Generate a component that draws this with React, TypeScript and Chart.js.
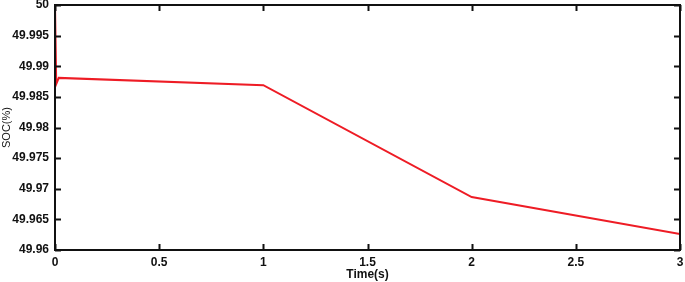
import React, { useEffect, useRef } from "react";
import { Chart, registerables } from "chart.js";

Chart.register(...registerables);

const timeValues = [0, 0.006, 0.018, 1, 2, 3];
const socValues = [50, 49.9871, 49.9881, 49.9869, 49.96865, 49.9626];
const xTicks = [0, 0.5, 1, 1.5, 2, 2.5, 3];
const yTicks = [49.96, 49.965, 49.97, 49.975, 49.98, 49.985, 49.99, 49.995, 50];

const NARROW = "'Liberation Sans Narrow', 'Arial Narrow', sans-serif";

const framePlugin = {
  id: "frame",
  afterDraw(chart: any) {
    const { ctx, chartArea: a, scales } = chart;
    const x = scales.x;
    const y = scales.y;
    ctx.save();
    ctx.strokeStyle = "#111";
    ctx.lineWidth = 2;
    ctx.strokeRect(a.left, a.top, a.right - a.left, a.bottom - a.top);
    const len = 6;
    ctx.beginPath();
    xTicks.forEach((v) => {
      const px = Math.round(x.getPixelForValue(v)) + 0.5;
      ctx.moveTo(px, a.bottom);
      ctx.lineTo(px, a.bottom - len);
      ctx.moveTo(px, a.top);
      ctx.lineTo(px, a.top + len);
    });
    yTicks.forEach((v) => {
      const py = Math.round(y.getPixelForValue(v)) + 0.5;
      ctx.moveTo(a.left, py);
      ctx.lineTo(a.left + len, py);
      ctx.moveTo(a.right, py);
      ctx.lineTo(a.right - len, py);
    });
    ctx.stroke();
    ctx.restore();
  },
};

export default function App() {
  const ref = useRef<HTMLCanvasElement>(null);
  useEffect(() => {
    const chart = new Chart(ref.current!, {
      type: "line",
      data: {
        datasets: [
          {
            data: timeValues.map((t, i) => ({ x: t, y: socValues[i] })),
            borderColor: "#ee1c25",
            borderWidth: 2,
            pointRadius: 0,
            fill: false,
            tension: 0,
          },
        ],
      },
      options: {
        animation: false,
        responsive: false,
        maintainAspectRatio: false,
        layout: { padding: { top: 5, right: 5, left: 0, bottom: 0 } },
        plugins: { legend: { display: false }, tooltip: { enabled: false } },
        scales: {
          x: {
            type: "linear",
            min: 0,
            max: 3,
            afterBuildTicks: (s: any) => {
              s.ticks = xTicks.map((v) => ({ value: v }));
            },
            afterFit: (s: any) => {
              s.height = 32;
              s.paddingLeft = 0;
              s.paddingRight = 0;
            },
            grid: { display: false, drawTicks: false },
            border: { display: false },
            ticks: {
              padding: 5,
              color: "#111",
              font: { family: NARROW, size: 12, weight: "bold" },
              maxRotation: 0,
              callback: (v: any) => String(v),
            },
            title: {
              display: true,
              text: "Time(s)",
              color: "#111",
              padding: { top: -1, bottom: 0 },
              font: { family: NARROW, size: 12, weight: "bold" },
            },
          },
          y: {
            type: "linear",
            min: 49.96,
            max: 50,
            afterBuildTicks: (s: any) => {
              s.ticks = yTicks.map((v) => ({ value: v }));
            },
            afterFit: (s: any) => {
              s.width = 55;
              s.paddingTop = 0;
              s.paddingBottom = 0;
            },
            grid: { display: false, drawTicks: false },
            border: { display: false },
            ticks: {
              padding: 6,
              color: "#111",
              font: { family: NARROW, size: 12, weight: "bold" },
              callback: (v: any) => String(Math.round(v * 1000) / 1000),
            },
            title: {
              display: true,
              text: "SOC(%)",
              color: "#111",
              padding: { top: 0, bottom: 2 },
              font: { family: NARROW, size: 11 },
            },
          },
        },
      },
      plugins: [framePlugin],
    } as any);
    return () => chart.destroy();
  }, []);
  return (
    <div style={{ position: "absolute", left: 0, top: 0, width: 685, height: 282, background: "#fff" }}>
      <canvas ref={ref} width={685} height={282} style={{ display: "block" }} />
    </div>
  );
}
